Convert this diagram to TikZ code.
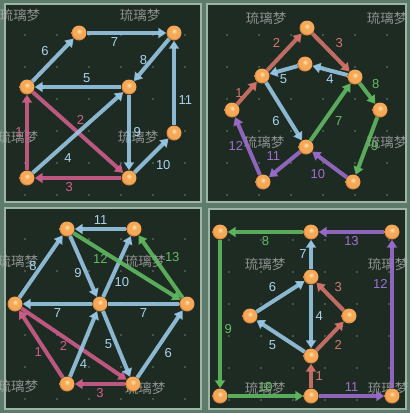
\documentclass[tikz,border=0pt]{standalone}
\usepackage{fontspec}
\setmainfont{Liberation Sans}
\newfontfamily\cjk{Noto Sans CJK SC}
\usetikzlibrary{arrows.meta}

\definecolor{frame}{HTML}{5E7A6A}
\definecolor{rim}{HTML}{9DB5A6}
\definecolor{board}{HTML}{1E2B23}
\definecolor{dotc}{HTML}{6F8077}
\definecolor{orbhi}{HTML}{FFE8B0}
\definecolor{orbmid}{HTML}{F4A858}
\definecolor{orbedge}{HTML}{D9823A}
\definecolor{lblue}{HTML}{9CCBEA}
\definecolor{lpink}{HTML}{D35E8E}
\definecolor{lred}{HTML}{D7766C}
\definecolor{lgreen}{HTML}{62BC62}
\definecolor{lpurple}{HTML}{9E6ED0}

\pgfdeclareradialshading{orb}{\pgfpoint{0bp}{7bp}}{color(0bp)=(orbhi); color(10bp)=(orbmid); color(22bp)=(orbmid); color(25bp)=(orbedge); color(50bp)=(orbedge)}

\begin{document}
\begin{tikzpicture}[x=1pt,y=-1pt]

	\tikzstyle{ball}=[circle,shade,shading=orb,minimum size=15pt,inner sep=0pt]
	\tikzstyle{link}=[line width=4pt,opacity=.88,-{Triangle[length=8pt,width=10pt]}]
	\tikzstyle{blu}=[link,draw=lblue]
	\tikzstyle{pnk}=[link,draw=lpink]
	\tikzstyle{rdd}=[link,draw=lred]
	\tikzstyle{grn}=[link,draw=lgreen]
	\tikzstyle{prp}=[link,draw=lpurple]
	\tikzstyle{num}=[font=\fontsize{13}{13}\selectfont,inner sep=2.5pt,opacity=1]
	\tikzstyle{nb}=[num,text=lblue!85!white]
	\tikzstyle{np}=[num,text=lpink]
	\tikzstyle{nr}=[num,text=lred]
	\tikzstyle{ng}=[num,text=lgreen]
	\tikzstyle{nv}=[num,text=lpurple]
	\tikzstyle{wmark}=[font=\cjk\fontsize{13.5}{13.5}\selectfont,text=gray!60,opacity=.75]

	\useasboundingbox[fill=frame] (0,0) rectangle (410,413);

	% boards
	\draw[rim,line width=2pt,fill=board] (5,4) rectangle (201,202);
	\draw[rim,line width=2pt,fill=board] (207,4) rectangle (406,202);
	\draw[rim,line width=2pt,fill=board] (5,208) rectangle (201,409);
	\draw[rim,line width=2pt,fill=board] (209,209) rectangle (406,409);

	\foreach \ox/\oy in {5/4,207/4,5/208,209/209}
		\foreach \i in {0,...,5}
			\foreach \j in {0,...,5}
				\fill[dotc] (\ox+20+32*\i,\oy+31+32*\j) circle (0.9pt);

	% watermarks
	\foreach \wx/\wy in {20/15,140/15,18/137,138/137,266/18,387/18,264/142,387/142,18/261,145/261,18/386,145/388,265/264,388/264,265/388,388/388}
		\node[wmark] at (\wx,\wy) {琉璃梦};

	% board 1
	\node[ball] (a1) at (79,33) {};
	\node[ball] (b1) at (174,33) {};
	\node[ball] (c1) at (27,87) {};
	\node[ball] (d1) at (129,87) {};
	\node[ball] (e1) at (174,133) {};
	\node[ball] (f1) at (27,178) {};
	\node[ball] (g1) at (129,178) {};

	\draw[pnk] (f1) -- (c1) node[np,midway,left] {1};
	\draw[pnk] (c1) -- (g1) node[np,pos=.45,above right=-1pt] {2};
	\draw[pnk] (g1) -- (f1) node[np,pos=.6,below] {3};
	\draw[blu] (f1) -- (d1) node[nb,pos=.3,below right] {4};
	\draw[blu] (d1) -- (c1) node[nb,pos=.4,above] {5};
	\draw[blu] (c1) -- (a1) node[nb,midway,above left] {6};
	\draw[blu] (a1) -- (b1) node[nb,pos=.35,below] {7};
	\draw[blu] (b1) -- (d1) node[nb,midway,left] {8};
	\draw[blu] (d1) -- (g1) node[nb,midway,right] {9};
	\draw[blu] (g1) -- (e1) node[nb,midway,below right] {10};
	\draw[blu] (e1) -- (b1) node[nb,pos=.3,right] {11};

	% board 2
	\node[ball] (a2) at (307,28) {};
	\node[ball] (b2) at (262,76) {};
	\node[ball] (c2) at (305,64) {};
	\node[ball] (d2) at (355,77) {};
	\node[ball] (e2) at (232,110) {};
	\node[ball] (f2) at (380,110) {};
	\node[ball] (g2) at (306,147) {};
	\node[ball] (h2) at (263,182) {};
	\node[ball] (i2) at (353,182) {};

	\draw[rdd] (e2) -- (b2) node[nr,midway,left] {1};
	\draw[rdd] (b2) -- (a2) node[nr,midway,above left] {2};
	\draw[rdd] (a2) -- (d2) node[nr,midway,above right] {3};
	\draw[blu] (d2) -- (c2) node[nb,midway,below] {4};
	\draw[blu] (c2) -- (b2) node[nb,midway,below] {5};
	\draw[blu] (b2) -- (g2) node[nb,midway,below left] {6};
	\draw[grn] (g2) -- (d2) node[ng,midway,below right] {7};
	\draw[grn] (d2) -- (f2) node[ng,midway,above right] {8};
	\draw[grn] (f2) -- (i2) node[ng,midway,right] {9};
	\draw[prp] (i2) -- (g2) node[nv,midway,below left] {10};
	\draw[prp] (g2) -- (h2) node[nv,midway,above left] {11};
	\draw[prp] (h2) -- (e2) node[nv,midway,left] {12};

	% board 3
	\node[ball] (a3) at (67,229) {};
	\node[ball] (b3) at (134,229) {};
	\node[ball] (c3) at (15,304) {};
	\node[ball] (d3) at (100,304) {};
	\node[ball] (e3) at (187,304) {};
	\node[ball] (f3) at (67,384) {};
	\node[ball] (g3) at (133,384) {};

	\draw[pnk] (f3) -- (c3) node[np,pos=.38,left] {1};
	\draw[pnk] (c3) -- (g3) node[np,pos=.4,below] {2};
	\draw[pnk] (g3) -- (f3) node[np,midway,below] {3};
	\draw[blu] (f3) -- (d3) node[nb,pos=.2,right] {4};
	\draw[blu] (d3) -- (g3) node[nb,midway,left] {5};
	\draw[blu] (g3) -- (e3) node[nb,midway,below right] {6};
	\draw[blu,-] (e3) -- (d3) node[nb,midway,below] {7};
	\draw[blu] (d3) -- (c3) node[nb,midway,below] {7};
	\draw[blu] (c3) -- (a3) node[nb,midway,left] {8};
	\draw[blu] (a3) -- (d3) node[nb,pos=.6,left] {9};
	\draw[blu] (d3) -- (b3) node[nb,pos=.25,right] {10};
	\draw[blu] (b3) -- (a3) node[nb,midway,above] {11};
	\draw[grn] (a3) -- (e3) node[ng,pos=.25,below] {12};
	\draw[grn] (e3) -- (b3) node[ng,midway,above right] {13};

	% board 4
	\node[ball] (a4) at (220,232) {};
	\node[ball] (b4) at (311,232) {};
	\node[ball] (c4) at (392,232) {};
	\node[ball] (d4) at (311,277) {};
	\node[ball] (e4) at (250,316) {};
	\node[ball] (f4) at (349,316) {};
	\node[ball] (g4) at (311,356) {};
	\node[ball] (h4) at (220,396) {};
	\node[ball] (i4) at (311,396) {};
	\node[ball] (j4) at (392,396) {};

	\draw[rdd] (i4) -- (g4) node[nr,midway,right] {1};
	\draw[rdd] (g4) -- (f4) node[nr,midway,below right] {2};
	\draw[rdd] (f4) -- (d4) node[nr,midway,above right] {3};
	\draw[blu] (d4) -- (g4) node[nb,midway,right] {4};
	\draw[blu] (g4) -- (e4) node[nb,midway,below left] {5};
	\draw[blu] (e4) -- (d4) node[nb,midway,above left] {6};
	\draw[blu] (d4) -- (b4) node[nb,midway,left] {7};
	\draw[grn] (b4) -- (a4) node[ng,midway,below] {8};
	\draw[grn] (a4) -- (h4) node[ng,pos=.6,right] {9};
	\draw[grn] (h4) -- (i4) node[ng,midway,above] {10};
	\draw[prp] (i4) -- (j4) node[nv,midway,above] {11};
	\draw[prp] (j4) -- (c4) node[nv,pos=.7,left] {12};
	\draw[prp] (c4) -- (b4) node[nv,midway,below] {13};

%	\draw[rim] (0,206) -- (410,206);
\end{tikzpicture}
\end{document}
